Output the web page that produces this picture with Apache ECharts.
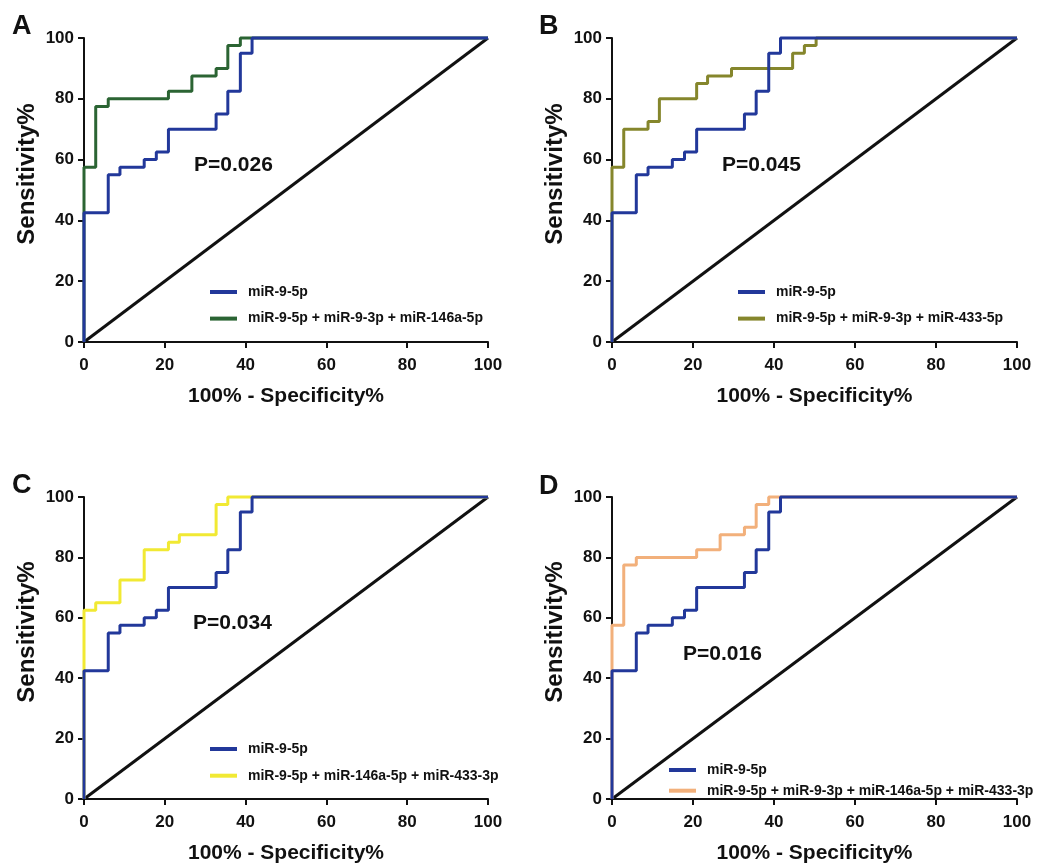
<!DOCTYPE html>
<html>
<head>
<meta charset="utf-8">
<script src="https://cdn.jsdelivr.net/npm/echarts@6/dist/echarts.min.js"></script>
<style>
  html, body { margin: 0; padding: 0; background: #fff; }
  #chart { width: 1052px; height: 865px; }
</style>
</head>
<body>
<div id="chart"></div>
<script>
// ROC datos (100% - especificidad, sensibilidad), esquinas superiores de cada escalon
const axisTicks = [0, 20, 40, 60, 80, 100];
const panelLetters = ["A", "B", "C", "D"];
const pValues = ["P=0.026", "P=0.045", "P=0.034", "P=0.016"];

const baseName = "miR-9-5p";
const baseFpr = [0, 0, 6, 8.9, 14.9, 17.9, 20.9, 32.7, 35.6, 38.7, 41.6, 100];
const baseTpr = [0, 42.5, 55, 57.5, 60, 62.5, 70, 75, 82.5, 95, 100, 100];

const comboNames = [
  "miR-9-5p + miR-9-3p + miR-146a-5p",
  "miR-9-5p + miR-9-3p + miR-433-5p",
  "miR-9-5p + miR-146a-5p + miR-433-3p",
  "miR-9-5p + miR-9-3p + miR-146a-5p + miR-433-3p"
];
const comboFpr = [
  [0, 0, 2.9, 6, 20.9, 26.7, 32.7, 35.6, 38.7, 100],
  [0, 0, 2.9, 8.9, 11.7, 20.9, 23.6, 29.5, 44.6, 47.5, 50.4, 100],
  [0, 0, 2.9, 8.9, 14.9, 20.9, 23.6, 32.7, 35.6, 100],
  [0, 0, 2.9, 6, 20.9, 26.7, 32.7, 35.6, 38.7, 100]
];
const comboTpr = [
  [0, 57.5, 77.5, 80, 82.5, 87.5, 90, 97.5, 100, 100],
  [0, 57.5, 70, 72.5, 80, 85, 87.5, 90, 95, 97.5, 100, 100],
  [0, 62.5, 65, 72.5, 82.5, 85, 87.5, 97.5, 100, 100],
  [0, 57.5, 77.5, 80, 82.5, 87.5, 90, 97.5, 100, 100]
];
const comboColors = ["#2b6433", "#85862c", "#f1e933", "#f2b07b"];
const blue = "#22389a";

const font = "'Liberation Sans', Arial, sans-serif";

// posiciones de cada panel
const grids = [
  { left: 84, top: 38, width: 404, height: 304 },
  { left: 612, top: 38, width: 405, height: 304 },
  { left: 84, top: 497, width: 404, height: 304 },
  { left: 612, top: 497, width: 405, height: 304 }
];
const legendPos = [
  { left: 205, top: 279, itemGap: 10.6 },
  { left: 733, top: 279, itemGap: 10.6 },
  { left: 205, top: 736, itemGap: 10.7 },
  { left: 664, top: 757, itemGap: 4.7 }
];
const pPos = [[194, 155], [722, 155], [193, 613], [683, 644]];
const letterPos = [[12, 13], [539, 13], [12, 472], [539, 473]];

function pairs(xs, ys) {
  return xs.map((x, i) => [x, ys[i]]);
}

var chartDom = document.getElementById('chart');
var myChart = echarts.init(chartDom);

let xAxes = [], yAxes = [], series = [], legends = [], graphics = [];

grids.forEach((g, i) => {
  xAxes.push({
    gridIndex: i, type: 'value', min: axisTicks[0], max: axisTicks[axisTicks.length - 1], interval: 20,
    name: "100% - Specificity%", nameLocation: 'middle', nameGap: 44,
    nameTextStyle: { fontSize: 21, fontWeight: 'bold', color: '#111', fontFamily: font },
    axisLine: { lineStyle: { color: '#111', width: 2 } },
    axisTick: { length: 6, lineStyle: { color: '#111', width: 2 } },
    axisLabel: { margin: 15, fontSize: 17, fontWeight: 'bold', color: '#111', fontFamily: font },
    splitLine: { show: false }
  });
  yAxes.push({
    gridIndex: i, type: 'value', min: axisTicks[0], max: axisTicks[axisTicks.length - 1], interval: 20,
    name: "Sensitivity%", nameLocation: 'middle', nameGap: 45,
    nameTextStyle: { fontSize: 24, fontWeight: 'bold', color: '#111', fontFamily: font, padding: [0, 0, 0, 32] },
    axisLine: { lineStyle: { color: '#111', width: 2 } },
    axisTick: { length: 6, lineStyle: { color: '#111', width: 2 } },
    axisLabel: { margin: 10, fontSize: 17, fontWeight: 'bold', color: '#111', fontFamily: font },
    splitLine: { show: false }
  });

  // diagonal de referencia
  series.push({
    type: 'line', xAxisIndex: i, yAxisIndex: i, data: [[0, 0], [100, 100]],
    symbol: 'none', clip: false, silent: true, z: 2,
    lineStyle: { color: '#111', width: 3 }
  });
  series.push({
    name: comboNames[i], type: 'line', xAxisIndex: i, yAxisIndex: i,
    data: pairs(comboFpr[i], comboTpr[i]), step: 'end',
    symbol: 'none', clip: false, z: 3, color: comboColors[i],
    lineStyle: { color: comboColors[i], width: 3 }
  });
  series.push({
    name: baseName, type: 'line', xAxisIndex: i, yAxisIndex: i,
    data: pairs(baseFpr, baseTpr), step: 'end',
    symbol: 'none', clip: false, z: 4, color: blue,
    lineStyle: { color: blue, width: 3 }
  });

  legends.push({
    orient: 'vertical', left: legendPos[i].left, top: legendPos[i].top,
    itemGap: legendPos[i].itemGap, itemWidth: 27, itemHeight: 4, icon: 'rect',
    selectedMode: false,
    data: [baseName, comboNames[i]],
    textStyle: { fontSize: 14, fontWeight: 'bold', color: '#111', fontFamily: font, lineHeight: 16, padding: [0, 0, 0, 6] }
  });

  graphics.push({
    type: 'text', left: pPos[i][0], top: pPos[i][1],
    style: { text: pValues[i], fontSize: 21, fontWeight: 'bold', fill: '#111', fontFamily: font }
  });
  graphics.push({
    type: 'text', left: letterPos[i][0], top: letterPos[i][1],
    style: { text: panelLetters[i], fontSize: 27, fontWeight: 'bold', fill: '#111', fontFamily: font }
  });
});

var option = {
  animation: false,
  backgroundColor: '#fff',
  grid: grids,
  xAxis: xAxes,
  yAxis: yAxes,
  legend: legends,
  series: series,
  graphic: graphics
};
option && myChart.setOption(option);
</script>
</body>
</html>
